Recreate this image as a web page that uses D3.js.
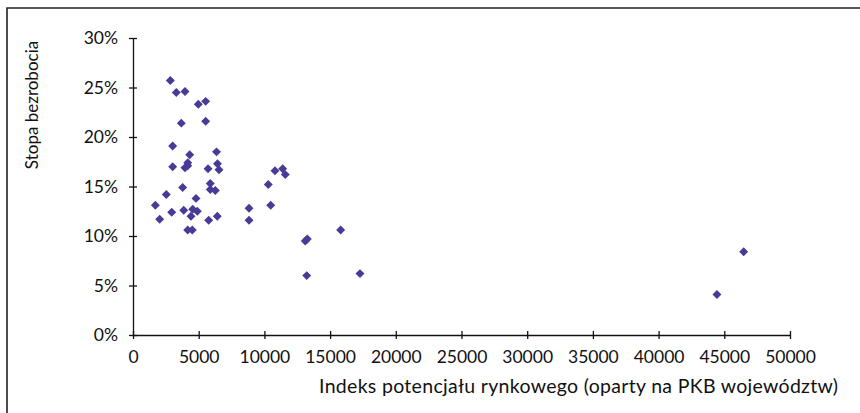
<!DOCTYPE html>
<html>
<head>
<meta charset="utf-8">
<script src="https://cdn.jsdelivr.net/npm/d3@7"></script>
<style>
  html, body { margin: 0; padding: 0; background: #fff; }
  svg text { font-family: Lato, "Open Sans", sans-serif; fill: #111; }
</style>
</head>
<body>
<script>
// market potential index (x) vs unemployment rate in % (y)
var potential = [2840, 3295, 3957, 4970, 5530, 3675, 5530, 3020, 4315, 6355,
  3020, 4165, 4165, 3957, 5710, 6430, 6545, 3780, 2535, 5880,
  5880, 6265, 1700, 4795, 2945, 3860, 4545, 4895, 4415, 2030,
  5760, 6415, 4165, 4510, 8830, 8830, 10805, 11390, 11590, 10295,
  10480, 13265, 13110, 15805, 13220, 17275, 46475, 44440];
var unemployment = [25.7, 24.5, 24.6, 23.3, 23.6, 21.4, 21.6, 19.1, 18.2, 18.5,
  17.0, 17.4, 17.1, 16.9, 16.8, 17.3, 16.7, 14.9, 14.2, 15.3,
  14.7, 14.6, 13.1, 13.8, 12.4, 12.6, 12.7, 12.5, 12.0, 11.7,
  11.6, 12.0, 10.6, 10.6, 12.8, 11.6, 16.6, 16.8, 16.2, 15.2,
  13.1, 9.7, 9.5, 10.6, 6.0, 6.2, 8.4, 4.1];
var xTicks = [0, 5000, 10000, 15000, 20000, 25000, 30000, 35000, 40000, 45000, 50000];
var yTicks = [0, 5, 10, 15, 20, 25, 30];

var W = 860, H = 413;
var svg = d3.select('body').append('svg').attr('width', W).attr('height', H);

// outer frame (only top and left are in view)
svg.append('path')
   .attr('d', 'M7,413 V8 H860')
   .attr('fill', 'none')
   .attr('stroke', '#222')
   .attr('stroke-width', 1.6);

var x = d3.scaleLinear().domain([0, 50000]).range([133, 790]);
var y = d3.scaleLinear().domain([0, 30]).range([335, 38]);

var xAxis = d3.axisBottom(x).tickValues(xTicks).tickSizeInner(4).tickSizeOuter(0)
  .tickFormat(d3.format('d')).tickPadding(12);
var yAxis = d3.axisLeft(y).tickValues(yTicks).tickSizeInner(4).tickSizeOuter(0)
  .tickFormat(function (d) { return d + '%'; }).tickPadding(11);

var gx = svg.append('g').attr('transform', 'translate(0,' + y(0) + ')').call(xAxis);
var gy = svg.append('g').attr('transform', 'translate(' + x(0) + ',0)').call(yAxis);

[gx, gy].forEach(function (g) {
  g.select('.domain').attr('stroke', '#111').attr('stroke-width', 1.3);
  g.selectAll('.tick line').attr('stroke', '#111').attr('stroke-width', 1.3);
  g.selectAll('.tick text').attr('font-size', 17.5).attr('fill', '#111')
   .style('font-family', 'Lato, "Open Sans", sans-serif');
});
// ticks cross the axes
gx.selectAll('.tick line').attr('y1', -4).attr('y2', 4);
gy.selectAll('.tick line').attr('x1', -4).attr('x2', 4);

// points as small square diamonds
var pts = potential.map(function (v, i) { return [v, unemployment[i]]; });
svg.append('g').selectAll('path')
   .data(pts)
   .enter()
   .append('path')
   .attr('d', d3.symbol().type(d3.symbolSquare).size(40))
   .attr('transform', function (d) {
      return 'translate(' + x(d[0]) + ',' + y(d[1]) + ') rotate(45)';
   })
   .attr('fill', '#473b98');

// axis titles
svg.append('text')
   .attr('x', 319).attr('y', 393)
   .attr('font-size', 19.5)
   .attr('textLength', 519)
   .attr('lengthAdjust', 'spacing')
   .text('Indeks potencjału rynkowego (oparty na PKB województw)');

svg.append('text')
   .attr('transform', 'translate(38,105) rotate(-90)')
   .attr('text-anchor', 'middle')
   .attr('font-size', 17)
   .text('Stopa bezrobocia');
</script>
</body>
</html>
